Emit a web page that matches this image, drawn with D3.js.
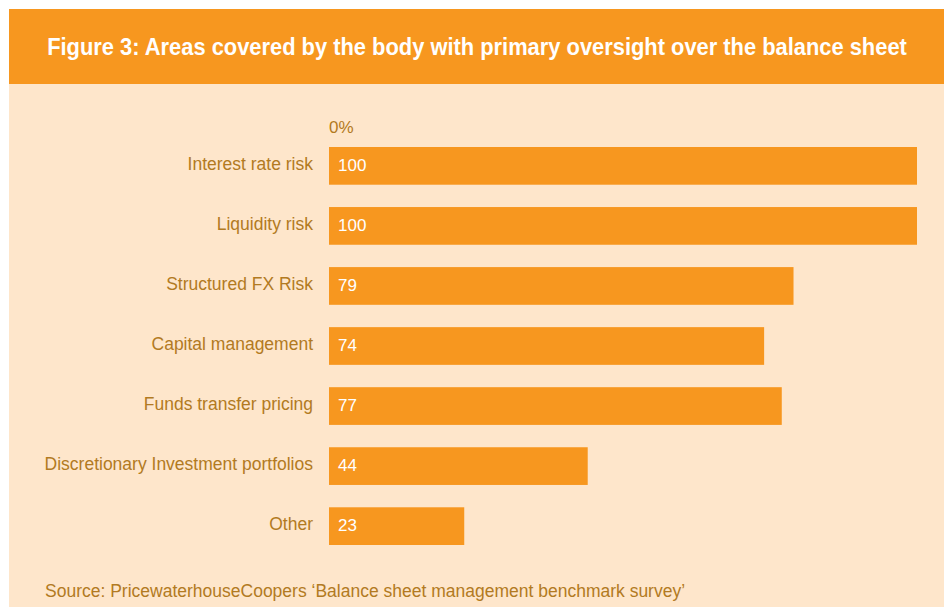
<!DOCTYPE html>
<html>
<head>
<meta charset="utf-8">
<script src="https://cdn.jsdelivr.net/npm/d3@7"></script>
<style>
  body { margin: 0; background: #fff; }
  text { font-family: "Liberation Sans", Arial, sans-serif; }
</style>
</head>
<body>
<div id="visual"></div>
<script>
// data
const categories = ["Interest rate risk", "Liquidity risk", "Structured FX Risk", "Capital management",
  "Funds transfer pricing", "Discretionary Investment portfolios", "Other"];
const values = [100, 100, 79, 74, 77, 44, 23];
const titleText = "Figure 3: Areas covered by the body with primary oversight over the balance sheet";
const sourceText = "Source: PricewaterhouseCoopers \u2018Balance sheet management benchmark survey\u2019";
const axisLabel = "0%";

const width = 944, height = 607;
const orange = "#F7971F", peach = "#FEE6CB", brown = "#B27A22";

const svg = d3.select("#visual").append("svg")
  .attr("width", width).attr("height", height);

// panel + title bar
svg.append("rect").attr("x", 9).attr("y", 9).attr("width", width - 9).attr("height", height - 9).attr("fill", peach);
svg.append("rect").attr("x", 9).attr("y", 9).attr("width", width - 9).attr("height", 75).attr("fill", orange);

// title, squeezed horizontally to mimic the condensed face
const titleG = svg.append("g");
const title = titleG.append("text")
  .attr("text-anchor", "middle")
  .attr("fill", "#fff").attr("font-weight", "bold").attr("font-size", 23)
  .text(titleText);
const tw = title.node().getComputedTextLength();
titleG.attr("transform", "translate(477,55) scale(" + (860 / tw) + ",1)");

// scales
const x = d3.scaleLinear().domain([0, 100]).range([329, 917]);
const y = d3.scaleBand().domain(categories).range([147, 545]).paddingInner(0.372).paddingOuter(0);

// bars
svg.selectAll("rect.bar")
  .data(values)
  .enter()
  .append("rect")
  .attr("class", "bar")
  .attr("x", x(0))
  .attr("y", (d, i) => y(categories[i]))
  .attr("width", d => x(d) - x(0))
  .attr("height", y.bandwidth())
  .attr("fill", orange);

// value labels
svg.selectAll("text.val")
  .data(values)
  .enter()
  .append("text")
  .attr("class", "val")
  .attr("x", x(0) + 9)
  .attr("y", (d, i) => y(categories[i]) + y.bandwidth() / 2 - 1)
  .attr("dy", "0.35em")
  .attr("fill", "#fff").attr("font-size", 17)
  .text(d => d);

// category labels
svg.selectAll("text.cat")
  .data(categories)
  .enter()
  .append("text")
  .attr("class", "cat")
  .attr("x", 313)
  .attr("y", d => y(d) + y.bandwidth() / 2 - 2)
  .attr("dy", "0.35em")
  .attr("text-anchor", "end")
  .attr("fill", brown).attr("font-size", 17.5)
  .text(d => d);

// axis label
svg.append("text")
  .attr("x", x(0)).attr("y", 133)
  .attr("fill", brown).attr("font-size", 17)
  .text(axisLabel);

// source
svg.append("text")
  .attr("x", 45).attr("y", 597)
  .attr("fill", brown).attr("font-size", 17.5)
  .text(sourceText);
</script>
</body>
</html>
